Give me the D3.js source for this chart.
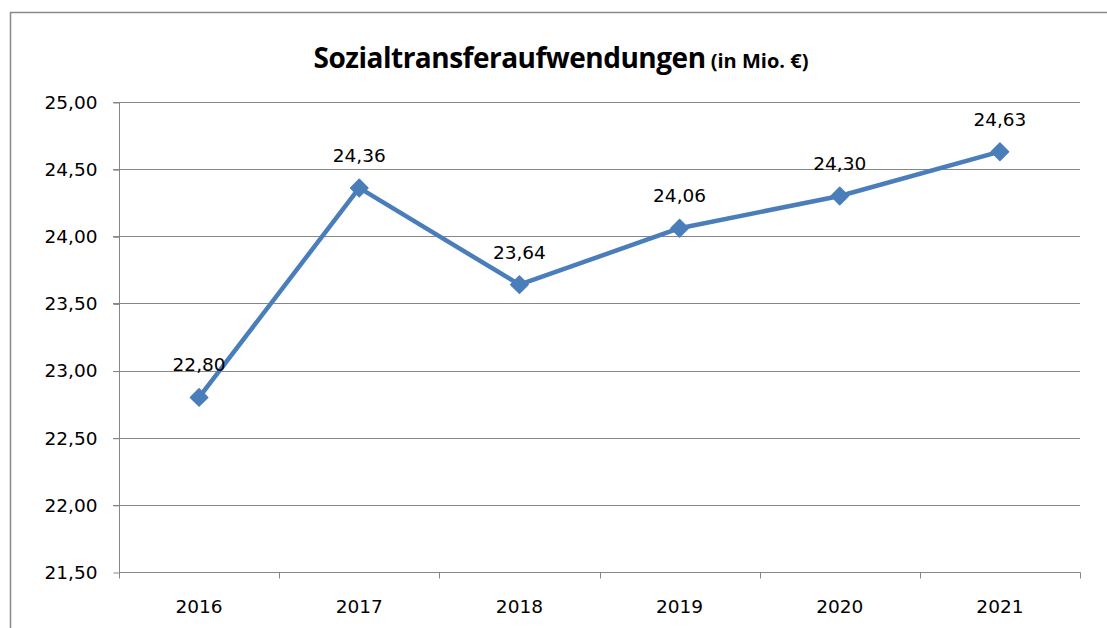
<!DOCTYPE html>
<html>
<head>
<meta charset="utf-8">
<script src="https://cdn.jsdelivr.net/npm/d3@7"></script>
<style>
  body { margin: 0; background: #fff; }
  text { font-family: "DejaVu Sans", sans-serif; fill: #000; }
</style>
</head>
<body>
<script>
var w = 1107
var h = 628

// data
var years = ["2016", "2017", "2018", "2019", "2020", "2021"]
var values = [22.80, 24.36, 23.64, 24.06, 24.30, 24.63]
var yTicks = [21.5, 22.0, 22.5, 23.0, 23.5, 24.0, 24.5, 25.0]

var fmt = function(v) { return v.toFixed(2).replace(".", ",") }

var svg = d3.select("body")
            .append("svg")
            .attr("width", w)
            .attr("height", h)

// outer chart border
svg.append("rect")
    .attr("x", 10.5)
    .attr("y", 12.5)
    .attr("width", w + 20)
    .attr("height", h + 20)
    .attr("fill", "none")
    .attr("stroke", "#898989")
    .attr("stroke-width", 1.5)

var plotL = 119, plotR = 1080, plotT = 102, plotB = 572

var x = d3.scaleBand().domain(years).range([plotL, plotR])
var y = d3.scaleLinear().domain([21.5, 25]).range([plotB, plotT])

// title
var title = svg.append("text")
    .attr("x", 561)
    .attr("y", 68)
    .attr("text-anchor", "middle")
    .style("font-family", "'Open Sans', sans-serif")
    .style("font-weight", "bold")
title.append("tspan").text("Sozialtransferaufwendungen").style("font-size", "28px").attr("letter-spacing", "-0.5")
title.append("tspan").text(" (in Mio. €)").style("font-size", "20px")

// gridlines
svg.append("g").selectAll("line")
    .data(yTicks.slice(1))
    .enter().append("line")
    .attr("x1", plotL - 6)
    .attr("x2", plotR)
    .attr("y1", function(d) { return Math.round(y(d)) + 0.5 })
    .attr("y2", function(d) { return Math.round(y(d)) + 0.5 })
    .attr("stroke", "#868686")
    .attr("stroke-width", 1)

// y axis
var yAxis = svg.append("g")
    .attr("transform", "translate(" + (plotL + 0.5) + ",0.5)")
    .call(d3.axisLeft(y).tickValues(yTicks).tickFormat(fmt).tickSize(6).tickPadding(16))
yAxis.selectAll("path, line").attr("stroke", "#868686")
yAxis.select(".domain").attr("d", "M0," + plotT + "V" + plotB)
yAxis.selectAll("text").style("font-size", "18.5px").style("font-family", "'DejaVu Sans', sans-serif")

// x axis with ticks at band boundaries
var xAxis = svg.append("g")
    .attr("transform", "translate(0," + (plotB + 0.5) + ")")
xAxis.append("line")
    .attr("x1", plotL).attr("x2", plotR + 0.5)
    .attr("stroke", "#868686")
xAxis.selectAll(".tk")
    .data(years.concat(["end"]))
    .enter().append("line")
    .attr("class", "tk")
    .attr("x1", function(d, i) { return Math.round(plotL + i * x.bandwidth()) + 0.5 })
    .attr("x2", function(d, i) { return Math.round(plotL + i * x.bandwidth()) + 0.5 })
    .attr("y1", 0)
    .attr("y2", 6)
    .attr("stroke", "#868686")
xAxis.selectAll(".lbl")
    .data(years)
    .enter().append("text")
    .attr("class", "lbl")
    .attr("x", function(d) { return x(d) + x.bandwidth() / 2 })
    .attr("y", 40)
    .attr("text-anchor", "middle")
    .style("font-size", "18.5px")
    .text(function(d) { return d })

// line
var pts = years.map(function(d, i) { return [x(d) + x.bandwidth() / 2, y(values[i])] })
svg.append("path")
    .attr("d", d3.line()(pts))
    .attr("fill", "none")
    .attr("stroke", "#4A7EBB")
    .attr("stroke-width", 4.5)
    .attr("stroke-linejoin", "round")

// markers: square turned 45 degrees
svg.append("g").selectAll("path")
    .data(pts)
    .enter().append("path")
    .attr("d", d3.symbol().type(d3.symbolSquare).size(150))
    .attr("transform", function(d) { return "translate(" + d[0] + "," + d[1] + ") rotate(45)" })
    .attr("fill", "#4A7EBB")
    .attr("stroke", "#4A7EBB")
    .attr("stroke-width", 1.5)
    .attr("stroke-linejoin", "round")

// data labels
svg.append("g").selectAll("text")
    .data(values)
    .enter().append("text")
    .attr("x", function(d, i) { return pts[i][0] })
    .attr("y", function(d, i) { return pts[i][1] - 26 })
    .attr("text-anchor", "middle")
    .style("font-size", "18.5px")
    .text(fmt)
</script>
</body>
</html>
